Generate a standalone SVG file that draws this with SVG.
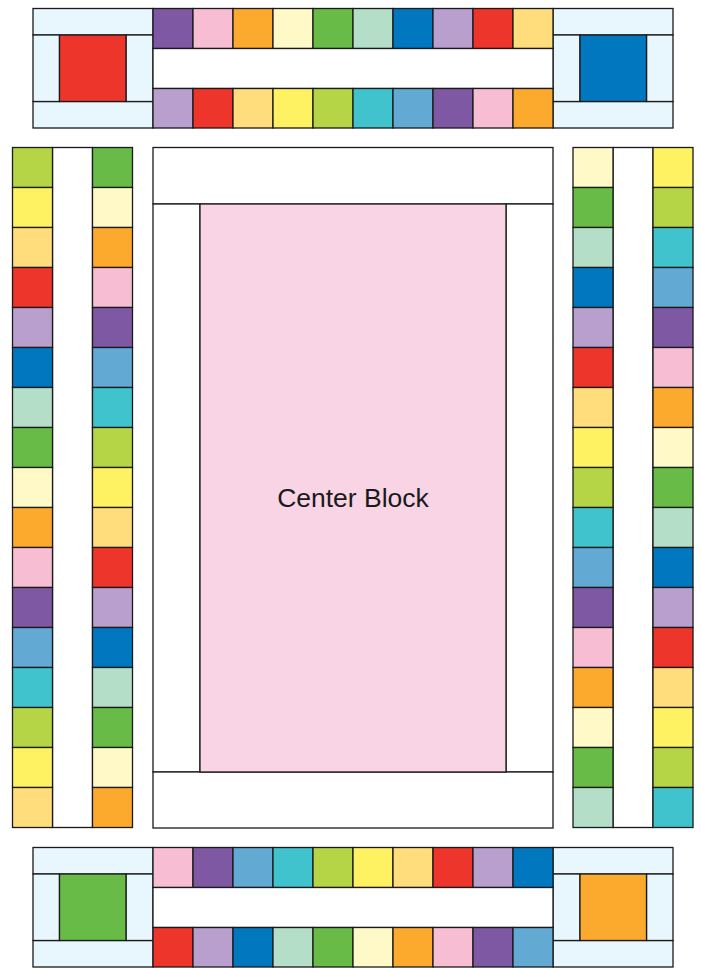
<svg xmlns="http://www.w3.org/2000/svg" width="701" height="968" viewBox="0 0 701 968">
<style>
rect{stroke:#1a1a1a;stroke-width:1.3}
.w{fill:#ffffff}
.lb{fill:#e8f6fd}
.pu{fill:#7f58a4}
.pk{fill:#f7bed3}
.or{fill:#fbaa2e}
.cr{fill:#fff9c8}
.gr{fill:#67bb46}
.mi{fill:#b4dec8}
.bl{fill:#0077bf}
.la{fill:#b89fcd}
.rd{fill:#ee352b}
.lo{fill:#ffdc7c}
.ye{fill:#fef263}
.li{fill:#b5d546}
.te{fill:#40c3cc}
.sk{fill:#62a9d4}
.cp{fill:#f8d4e4}
text{font-family:"Liberation Sans",Arial,sans-serif;font-size:26.5px;fill:#1a1a1a}
</style>
<rect x="0" y="0" width="701" height="968" fill="#ffffff" style="stroke:none"/>

<g id="top-strip">
  <g id="top-left-block">
    <rect class="lb" x="33" y="8.5" width="120" height="26.5"/>
    <rect class="lb" x="33" y="101.5" width="120" height="26.5"/>
    <rect class="lb" x="33" y="35" width="26.5" height="66.5"/>
    <rect class="lb" x="126" y="35" width="27" height="66.5"/>
    <rect class="rd" x="59.5" y="35" width="66.5" height="66.5"/>
  </g>
  <g id="top-right-block">
    <rect class="lb" x="553" y="8.5" width="120" height="26.5"/>
    <rect class="lb" x="553" y="101.5" width="120" height="26.5"/>
    <rect class="lb" x="553" y="35" width="27" height="66.5"/>
    <rect class="lb" x="646.5" y="35" width="26.5" height="66.5"/>
    <rect class="bl" x="580" y="35" width="66.5" height="66.5"/>
  </g>
  <g id="top-row-1">
    <rect class="pu" x="153" y="8.5" width="40" height="40"/>
    <rect class="pk" x="193" y="8.5" width="40" height="40"/>
    <rect class="or" x="233" y="8.5" width="40" height="40"/>
    <rect class="cr" x="273" y="8.5" width="40" height="40"/>
    <rect class="gr" x="313" y="8.5" width="40" height="40"/>
    <rect class="mi" x="353" y="8.5" width="40" height="40"/>
    <rect class="bl" x="393" y="8.5" width="40" height="40"/>
    <rect class="la" x="433" y="8.5" width="40" height="40"/>
    <rect class="rd" x="473" y="8.5" width="40" height="40"/>
    <rect class="lo" x="513" y="8.5" width="40" height="40"/>
  </g>
  <rect class="w" x="153" y="48.5" width="400" height="40"/>
  <g id="top-row-2">
    <rect class="la" x="153" y="88.5" width="40" height="39.5"/>
    <rect class="rd" x="193" y="88.5" width="40" height="39.5"/>
    <rect class="lo" x="233" y="88.5" width="40" height="39.5"/>
    <rect class="ye" x="273" y="88.5" width="40" height="39.5"/>
    <rect class="li" x="313" y="88.5" width="40" height="39.5"/>
    <rect class="te" x="353" y="88.5" width="40" height="39.5"/>
    <rect class="sk" x="393" y="88.5" width="40" height="39.5"/>
    <rect class="pu" x="433" y="88.5" width="40" height="39.5"/>
    <rect class="pk" x="473" y="88.5" width="40" height="39.5"/>
    <rect class="or" x="513" y="88.5" width="40" height="39.5"/>
  </g>
</g>

<g id="left-column">
  <rect class="w" x="52.5" y="147.5" width="40" height="680"/>
  <g id="left-outer">
    <rect class="li" x="12.5" y="147.5" width="40" height="40"/>
    <rect class="ye" x="12.5" y="187.5" width="40" height="40"/>
    <rect class="lo" x="12.5" y="227.5" width="40" height="40"/>
    <rect class="rd" x="12.5" y="267.5" width="40" height="40"/>
    <rect class="la" x="12.5" y="307.5" width="40" height="40"/>
    <rect class="bl" x="12.5" y="347.5" width="40" height="40"/>
    <rect class="mi" x="12.5" y="387.5" width="40" height="40"/>
    <rect class="gr" x="12.5" y="427.5" width="40" height="40"/>
    <rect class="cr" x="12.5" y="467.5" width="40" height="40"/>
    <rect class="or" x="12.5" y="507.5" width="40" height="40"/>
    <rect class="pk" x="12.5" y="547.5" width="40" height="40"/>
    <rect class="pu" x="12.5" y="587.5" width="40" height="40"/>
    <rect class="sk" x="12.5" y="627.5" width="40" height="40"/>
    <rect class="te" x="12.5" y="667.5" width="40" height="40"/>
    <rect class="li" x="12.5" y="707.5" width="40" height="40"/>
    <rect class="ye" x="12.5" y="747.5" width="40" height="40"/>
    <rect class="lo" x="12.5" y="787.5" width="40" height="40"/>
  </g>
  <g id="left-inner">
    <rect class="gr" x="92.5" y="147.5" width="40" height="40"/>
    <rect class="cr" x="92.5" y="187.5" width="40" height="40"/>
    <rect class="or" x="92.5" y="227.5" width="40" height="40"/>
    <rect class="pk" x="92.5" y="267.5" width="40" height="40"/>
    <rect class="pu" x="92.5" y="307.5" width="40" height="40"/>
    <rect class="sk" x="92.5" y="347.5" width="40" height="40"/>
    <rect class="te" x="92.5" y="387.5" width="40" height="40"/>
    <rect class="li" x="92.5" y="427.5" width="40" height="40"/>
    <rect class="ye" x="92.5" y="467.5" width="40" height="40"/>
    <rect class="lo" x="92.5" y="507.5" width="40" height="40"/>
    <rect class="rd" x="92.5" y="547.5" width="40" height="40"/>
    <rect class="la" x="92.5" y="587.5" width="40" height="40"/>
    <rect class="bl" x="92.5" y="627.5" width="40" height="40"/>
    <rect class="mi" x="92.5" y="667.5" width="40" height="40"/>
    <rect class="gr" x="92.5" y="707.5" width="40" height="40"/>
    <rect class="cr" x="92.5" y="747.5" width="40" height="40"/>
    <rect class="or" x="92.5" y="787.5" width="40" height="40"/>
  </g>
</g>

<g id="center-block">
  <rect class="w" x="153" y="147.5" width="400" height="56.5"/>
  <rect class="w" x="153" y="204" width="47" height="568"/>
  <rect class="w" x="506" y="204" width="47" height="568"/>
  <rect class="w" x="153" y="772" width="400" height="56"/>
  <rect class="cp" x="200" y="204" width="306" height="568"/>
  <text x="353" y="506.5" text-anchor="middle">Center Block</text>
</g>

<g id="right-column">
  <rect class="w" x="613" y="147.5" width="40" height="680"/>
  <g id="right-inner">
    <rect class="cr" x="573" y="147.5" width="40" height="40"/>
    <rect class="gr" x="573" y="187.5" width="40" height="40"/>
    <rect class="mi" x="573" y="227.5" width="40" height="40"/>
    <rect class="bl" x="573" y="267.5" width="40" height="40"/>
    <rect class="la" x="573" y="307.5" width="40" height="40"/>
    <rect class="rd" x="573" y="347.5" width="40" height="40"/>
    <rect class="lo" x="573" y="387.5" width="40" height="40"/>
    <rect class="ye" x="573" y="427.5" width="40" height="40"/>
    <rect class="li" x="573" y="467.5" width="40" height="40"/>
    <rect class="te" x="573" y="507.5" width="40" height="40"/>
    <rect class="sk" x="573" y="547.5" width="40" height="40"/>
    <rect class="pu" x="573" y="587.5" width="40" height="40"/>
    <rect class="pk" x="573" y="627.5" width="40" height="40"/>
    <rect class="or" x="573" y="667.5" width="40" height="40"/>
    <rect class="cr" x="573" y="707.5" width="40" height="40"/>
    <rect class="gr" x="573" y="747.5" width="40" height="40"/>
    <rect class="mi" x="573" y="787.5" width="40" height="40"/>
  </g>
  <g id="right-outer">
    <rect class="ye" x="653" y="147.5" width="40" height="40"/>
    <rect class="li" x="653" y="187.5" width="40" height="40"/>
    <rect class="te" x="653" y="227.5" width="40" height="40"/>
    <rect class="sk" x="653" y="267.5" width="40" height="40"/>
    <rect class="pu" x="653" y="307.5" width="40" height="40"/>
    <rect class="pk" x="653" y="347.5" width="40" height="40"/>
    <rect class="or" x="653" y="387.5" width="40" height="40"/>
    <rect class="cr" x="653" y="427.5" width="40" height="40"/>
    <rect class="gr" x="653" y="467.5" width="40" height="40"/>
    <rect class="mi" x="653" y="507.5" width="40" height="40"/>
    <rect class="bl" x="653" y="547.5" width="40" height="40"/>
    <rect class="la" x="653" y="587.5" width="40" height="40"/>
    <rect class="rd" x="653" y="627.5" width="40" height="40"/>
    <rect class="lo" x="653" y="667.5" width="40" height="40"/>
    <rect class="ye" x="653" y="707.5" width="40" height="40"/>
    <rect class="li" x="653" y="747.5" width="40" height="40"/>
    <rect class="te" x="653" y="787.5" width="40" height="40"/>
  </g>
</g>

<g id="bottom-strip">
  <g id="bottom-left-block">
    <rect class="lb" x="33" y="847.5" width="120" height="26.5"/>
    <rect class="lb" x="33" y="940.5" width="120" height="26.5"/>
    <rect class="lb" x="33" y="874" width="26.5" height="66.5"/>
    <rect class="lb" x="126" y="874" width="27" height="66.5"/>
    <rect class="gr" x="59.5" y="874" width="66.5" height="66.5"/>
  </g>
  <g id="bottom-right-block">
    <rect class="lb" x="553" y="847.5" width="120" height="26.5"/>
    <rect class="lb" x="553" y="940.5" width="120" height="26.5"/>
    <rect class="lb" x="553" y="874" width="27" height="66.5"/>
    <rect class="lb" x="646.5" y="874" width="26.5" height="66.5"/>
    <rect class="or" x="580" y="874" width="66.5" height="66.5"/>
  </g>
  <g id="bottom-row-1">
    <rect class="pk" x="153" y="847.5" width="40" height="40"/>
    <rect class="pu" x="193" y="847.5" width="40" height="40"/>
    <rect class="sk" x="233" y="847.5" width="40" height="40"/>
    <rect class="te" x="273" y="847.5" width="40" height="40"/>
    <rect class="li" x="313" y="847.5" width="40" height="40"/>
    <rect class="ye" x="353" y="847.5" width="40" height="40"/>
    <rect class="lo" x="393" y="847.5" width="40" height="40"/>
    <rect class="rd" x="433" y="847.5" width="40" height="40"/>
    <rect class="la" x="473" y="847.5" width="40" height="40"/>
    <rect class="bl" x="513" y="847.5" width="40" height="40"/>
  </g>
  <rect class="w" x="153" y="887.5" width="400" height="40"/>
  <g id="bottom-row-2">
    <rect class="rd" x="153" y="927.5" width="40" height="39.5"/>
    <rect class="la" x="193" y="927.5" width="40" height="39.5"/>
    <rect class="bl" x="233" y="927.5" width="40" height="39.5"/>
    <rect class="mi" x="273" y="927.5" width="40" height="39.5"/>
    <rect class="gr" x="313" y="927.5" width="40" height="39.5"/>
    <rect class="cr" x="353" y="927.5" width="40" height="39.5"/>
    <rect class="or" x="393" y="927.5" width="40" height="39.5"/>
    <rect class="pk" x="433" y="927.5" width="40" height="39.5"/>
    <rect class="pu" x="473" y="927.5" width="40" height="39.5"/>
    <rect class="sk" x="513" y="927.5" width="40" height="39.5"/>
  </g>
</g>

<g id="connectors"></g>
</svg>
